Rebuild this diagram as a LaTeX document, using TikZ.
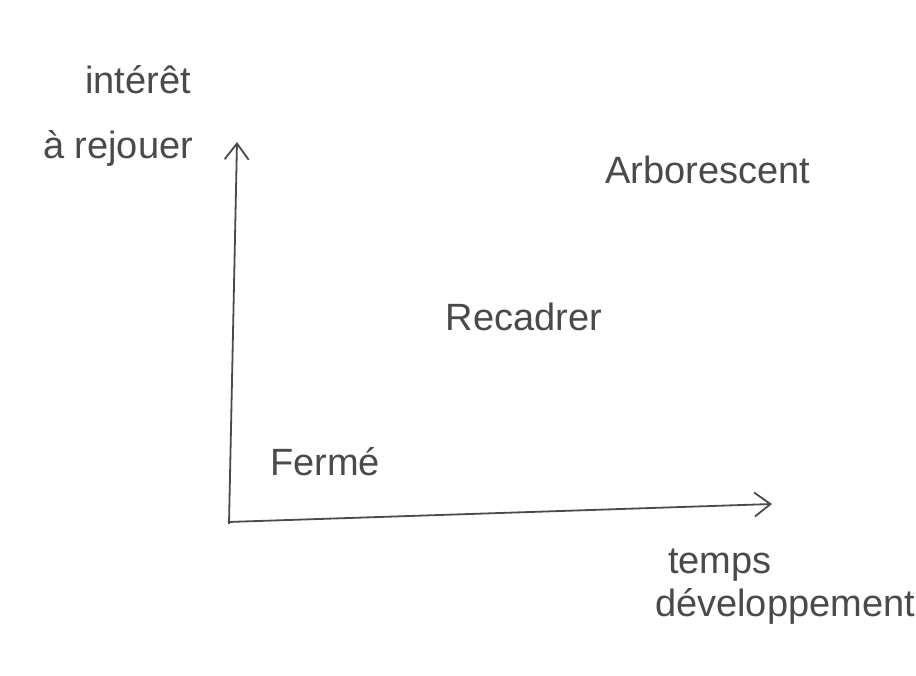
\documentclass[tikz,border=0pt]{standalone}
\usepackage{fontspec}
\setmainfont{Liberation Sans}
\usetikzlibrary{arrows.meta}
\definecolor{pencil}{HTML}{4A4A4A}
\tikzset{
  lbl/.style={text=pencil, font=\fontsize{38}{42}\selectfont, inner sep=0pt},
  axis/.style={draw=pencil, line width=1.8pt, -{Straight Barb[length=16pt,width=24pt]}}
}
\begin{document}
\begin{tikzpicture}[x=1pt,y=-1pt]
\useasboundingbox[fill=white] (0,0) rectangle (916,676);
\coordinate (o) at (229,524);
\coordinate (ytop) at (237,142);
\coordinate (xend) at (772,504);
\draw[axis] (o) -- (ytop);
\draw[axis] (228,522) -- (xend);
\node[lbl] (yl1) at (138,80) {intérêt};
\node[lbl] (yl2) at (118,148) {à rejouer};
\node[lbl] (arb) at (708,170) {Arborescent};
\node[lbl] (rec) at (524,317) {Recadrer};
\node[lbl] (fer) at (325,462) {Fermé};
\node[lbl] (xl1) at (720,565) {temps};
\node[lbl] (xl2) at (785,606) {développement};
\end{tikzpicture}
\end{document}
